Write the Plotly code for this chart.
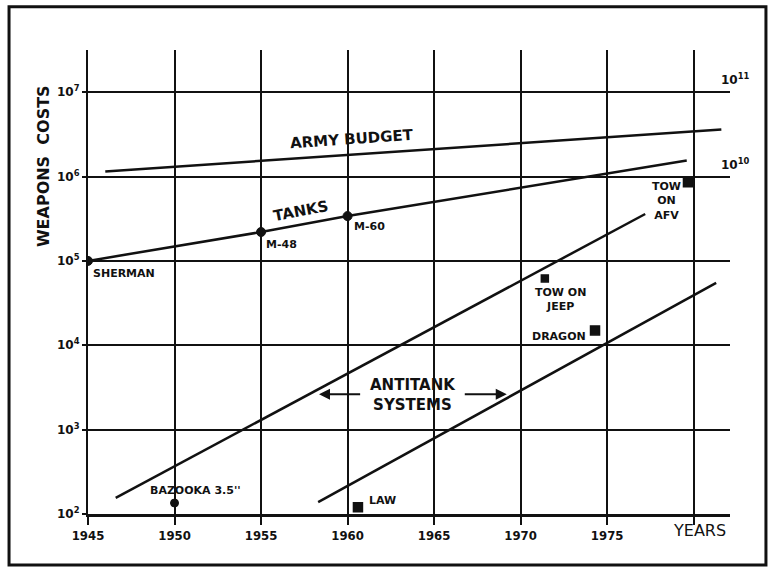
import plotly.graph_objects as go
import math

# ---- data ----
budget_years = [1946.0, 1981.6]
budget_costs = [1.15e6, 3.6e6]

tank_years = [1945, 1955, 1960, 1979.6]
tank_costs = [1.0e5, 2.2e5, 3.4e5, 1.55e6]
tank_points = ["SHERMAN", "M-48", "M-60"]

at_upper_years = [1946.6, 1977.2]
at_upper_costs = [155, 3.6e5]
at_lower_years = [1958.3, 1981.3]
at_lower_costs = [138, 5.5e4]

circle_names = ["BAZOOKA 3.5''"]
circle_years = [1950]
circle_costs = [135]

square_names = ["LAW", "TOW ON<br>JEEP", "DRAGON", "TOW<br>ON<br>AFV"]
square_years = [1960.6, 1971.4, 1974.3, 1979.7]
square_costs = [120, 6.2e4, 1.5e4, 8.7e5]
square_sizes = [9, 7, 9, 10]

x_ticks = [1945, 1950, 1955, 1960, 1965, 1970, 1975, 1980]
x_ticktext = ["1945", "1950", "1955", "1960", "1965", "1970", "1975", " "]
y_ticks = [1e2, 1e3, 1e4, 1e5, 1e6, 1e7]
y_ticktext = ["10<sup>2</sup>", "10<sup>3</sup>", "10<sup>4</sup>",
              "10<sup>5</sup>", "10<sup>6</sup>", "10<sup>7</sup>"]
right_labels = ["10<sup>11</sup>", "10<sup>10</sup>"]
right_label_levels = [1e7, 1e6]

BLACK = "#111111"
LBL = dict(family="DejaVu Sans, Arial", size=11, color=BLACK, weight="bold")
BIG = dict(family="DejaVu Sans, Arial", size=15, color=BLACK, weight="bold")

fig = go.Figure()

line_style = dict(color=BLACK, width=2.5)
fig.add_trace(go.Scatter(x=budget_years, y=budget_costs, mode="lines", line=line_style))
fig.add_trace(go.Scatter(x=tank_years, y=tank_costs, mode="lines", line=line_style))
fig.add_trace(go.Scatter(x=tank_years[:3], y=tank_costs[:3], mode="markers",
                         marker=dict(color=BLACK, size=9, symbol="circle",
                                     line=dict(color=BLACK, width=1))))
fig.add_trace(go.Scatter(x=at_upper_years, y=at_upper_costs, mode="lines", line=line_style))
fig.add_trace(go.Scatter(x=at_lower_years, y=at_lower_costs, mode="lines", line=line_style))
fig.add_trace(go.Scatter(x=circle_years, y=circle_costs, mode="markers",
                         marker=dict(color=BLACK, size=8, symbol="circle",
                                     line=dict(color=BLACK, width=1))))
fig.add_trace(go.Scatter(x=square_years, y=square_costs, mode="markers",
                         marker=dict(color=BLACK, size=square_sizes, symbol="square",
                                     opacity=1, line=dict(color=BLACK, width=1.5))))

ann = []
# tank point labels
tank_offsets = [(3, -4), (3, -4), (4, -2)]
for name, xv, yv, (dx, dy) in zip(tank_points, tank_years, tank_costs, tank_offsets):
    ann.append(dict(x=xv, y=math.log10(yv), text=name, showarrow=False, xanchor="left",
                    yanchor="top", xshift=dx, yshift=dy, font=LBL))
# circle labels
ann.append(dict(x=circle_years[0], y=math.log10(circle_costs[0]), text=circle_names[0],
                showarrow=False, xanchor="center", yanchor="bottom", xshift=21, yshift=4, font=LBL))
# square labels
sq_cfg = [
    dict(xanchor="left", yanchor="middle", xshift=9, yshift=7, align="left"),
    dict(xanchor="center", yanchor="top", xshift=16, yshift=-6, align="center"),
    dict(xanchor="right", yanchor="middle", xshift=-7, yshift=-6, align="right"),
    dict(xanchor="center", yanchor="top", xshift=-22, yshift=4, align="center"),
]
for name, xv, yv, cfg in zip(square_names, square_years, square_costs, sq_cfg):
    ann.append(dict(x=xv, y=math.log10(yv), text=name, showarrow=False, font=LBL, **cfg))

# series labels
ann.append(dict(x=1960.25, y=6.44, text="ARMY BUDGET", showarrow=False, textangle=-4, font=BIG))
ann.append(dict(x=1957.3, y=5.59, text="TANKS", showarrow=False, textangle=-11, font=BIG))
ann.append(dict(x=1963.8, y=3.41, text="ANTITANK<br>SYSTEMS", showarrow=False, font=BIG))
# arrows
ann.append(dict(x=1958.35, y=3.42, ax=1960.9, ay=3.42, axref="x", ayref="y", text=" ",
                showarrow=True, arrowhead=2, arrowsize=1.1, arrowwidth=2, arrowcolor=BLACK))
ann.append(dict(x=1969.2, y=3.42, ax=1966.6, ay=3.42, axref="x", ayref="y", text=" ",
                showarrow=True, arrowhead=2, arrowsize=1.1, arrowwidth=2, arrowcolor=BLACK))

# right side scale labels
for t, lv in zip(right_labels, right_label_levels):
    ann.append(dict(x=1.008, xref="paper", y=math.log10(lv), text=t, showarrow=False,
                    xanchor="center", yanchor="bottom", yshift=3,
                    font=dict(family="DejaVu Sans, Arial", size=12, color=BLACK, weight="bold")))

# axis captions
ann.append(dict(x=0.952, xref="paper", y=-0.035, yref="paper", text="YEARS", showarrow=False,
                xanchor="center", yanchor="middle",
                font=dict(family="DejaVu Sans, Arial", size=16, color=BLACK)))
ann.append(dict(x=-0.070, xref="paper", y=0.75, yref="paper", text="WEAPONS  COSTS",
                showarrow=False, textangle=-90, xanchor="center", yanchor="middle",
                font=dict(family="DejaVu Sans, Arial", size=16, color=BLACK, weight="bold")))

fig.update_layout(
    width=771, height=569, autosize=False,
    margin=dict(l=88, r=41, t=50, b=55),
    paper_bgcolor="white", plot_bgcolor="white",
    showlegend=False,
    annotations=ann,
    shapes=[dict(type="rect", xref="paper", yref="paper", x0=-0.123, x1=1.056,
                 y0=-0.110, y1=1.093, line=dict(color=BLACK, width=3), layer="above")],
    xaxis=dict(range=[1945, 1982.1], tickvals=x_ticks, ticktext=x_ticktext,
               showgrid=True, gridcolor=BLACK, gridwidth=1.6,
               showline=True, linecolor=BLACK, linewidth=2.5,
               ticks="outside", ticklen=8, tickwidth=1.6, tickcolor=BLACK,
               zeroline=False,
               tickfont=dict(family="Liberation Sans Narrow, DejaVu Sans Condensed",
                             size=13, color=BLACK, weight="bold")),
    yaxis=dict(type="log", range=[2, 7.5], tickvals=y_ticks, ticktext=y_ticktext,
               showgrid=True, gridcolor=BLACK, gridwidth=1.6,
               showline=True, linecolor=BLACK, linewidth=2.2,
               ticks="outside", ticklen=4, tickwidth=1.6, tickcolor=BLACK,
               zeroline=False,
               tickfont=dict(family="DejaVu Sans, Arial", size=12, color=BLACK, weight="bold")),
)

fig.write_html("out.html", config={"displayModeBar": False},
               post_script="document.body.style.margin='0';document.body.style.overflow='hidden';")
